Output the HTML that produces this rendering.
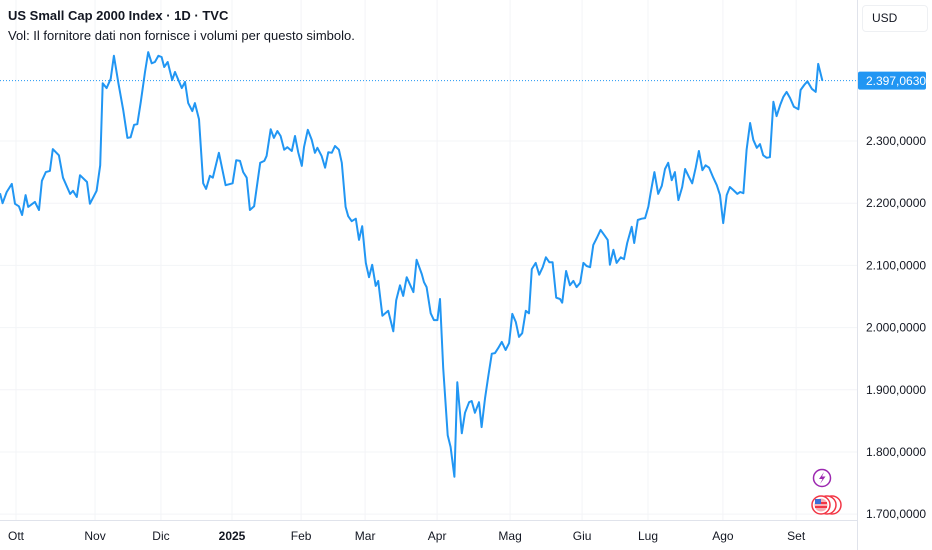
<!DOCTYPE html>
<html><head><meta charset="utf-8">
<style>
body{margin:0;width:932px;height:550px;background:#fff;overflow:hidden;font-family:"Liberation Sans","DejaVu Sans",sans-serif;}
#wrap{position:relative;width:932px;height:550px;}
svg{position:absolute;left:0;top:0;}
.hdr{position:absolute;left:8px;color:#131722;white-space:nowrap;}
</style></head><body>
<div id="wrap">
<svg id="chart" width="932" height="550"></svg>
<div class="hdr" style="top:8px;font-size:13px;font-weight:bold;">US Small Cap 2000 Index · 1D · TVC</div>
<div class="hdr" style="top:28px;font-size:13px;">Vol: Il fornitore dati non fornisce i volumi per questo simbolo.</div>
<div style="position:absolute;left:862px;top:5px;width:64px;height:25px;border:1px solid #eef0f3;border-radius:4px;font-size:12px;color:#131722;line-height:25px;text-indent:9px;">USD</div>
</div>
<script>
const days=[0,0.8,2.1,3.7,4.7,5.9,6.9,8.0,8.8,10.9,12.2,13.1,14.3,15.6,16.5,18.4,19.7,21.9,22.8,24.0,25.0,27.2,28.1,30.2,31.3,32.1,33.3,34.6,35.6,37.0,38.5,39.8,40.8,41.9,42.9,44.0,45.3,46.3,47.4,48.4,49.5,50.5,51.3,52.4,53.8,54.7,56.8,57.8,58.8,60.1,60.9,62.2,63.5,64.4,65.6,66.5,68.4,70.5,72.7,73.8,75.0,76.0,77.1,78.1,79.4,81.3,82.6,83.3,84.6,85.6,86.7,87.7,88.8,89.8,91.2,92.2,93.2,94.3,95.0,96.2,97.4,98.4,99.2,100.5,101.6,102.6,103.7,104.7,105.9,106.8,108.0,108.8,109.9,111.2,112.2,113.2,114.3,115.3,116.3,117.4,118.2,119.5,121.3,122.9,123.8,125.0,126.0,127.1,129.2,130.2,131.8,132.5,133.3,134.6,135.6,136.7,137.5,138.5,139.9,140.8,142.0,142.9,144.3,145.3,146.6,147.4,148.4,149.7,150.5,151.6,152.6,153.7,154.7,155.7,156.8,158.0,159.1,160.1,161.2,162.2,163.2,164.3,165.3,166.2,167.4,168.5,169.6,170.6,171.7,172.7,173.8,175.0,175.7,176.9,178.1,179.2,180.2,181.3,182.3,183.3,184.4,185.4,186.5,187.7,188.8,189.9,190.6,191.7,192.7,194.0,195.0,196.0,197.4,198.2,199.3,200.5,201.6,202.6,203.3,204.5,205.7,206.8,207.8,208.8,209.9,210.9,212.0,213.2,214.1,215.3,216.3,217.4,218.4,219.5,220.5,221.6,222.9,224.0,225.0,226.0,227.1,228.1,229.2,230.4,231.3,232.3,233.3,234.4,235.4,236.5,237.5,238.5,239.6,240.6,241.7,242.7,243.8,244.8,245.8,246.9,248.1,249.5,250.2,251.3,252.3,253.7,254.9,255.7,257.0];
const prices=[2216,2200,2218,2231,2199,2195,2181,2213,2194,2202,2189,2236,2250,2252,2287,2277,2241,2215,2220,2210,2245,2234,2199,2220,2261,2393,2385,2400,2437,2393,2350,2305,2306,2326,2327,2363,2411,2443,2425,2427,2437,2435,2419,2427,2398,2411,2385,2395,2361,2348,2361,2335,2232,2223,2244,2241,2281,2229,2232,2269,2268,2250,2241,2189,2195,2265,2268,2276,2319,2305,2316,2308,2286,2290,2284,2308,2282,2260,2290,2318,2302,2281,2289,2276,2257,2282,2281,2292,2286,2265,2194,2179,2171,2175,2141,2163,2104,2081,2101,2067,2075,2019,2027,1994,2044,2068,2051,2081,2057,2109,2086,2073,2065,2023,2012,2012,2046,1935,1827,1808,1760,1912,1830,1863,1880,1882,1863,1880,1840,1887,1922,1958,1959,1967,1977,1964,1975,2022,2009,1985,1991,2027,2023,2094,2104,2085,2097,2113,2105,2105,2048,2046,2040,2091,2068,2075,2065,2072,2104,2099,2097,2133,2144,2157,2149,2141,2101,2125,2104,2113,2110,2136,2162,2136,2173,2175,2176,2194,2216,2250,2215,2228,2255,2265,2237,2250,2205,2226,2255,2242,2232,2257,2284,2253,2261,2257,2241,2229,2213,2168,2213,2226,2221,2215,2218,2216,2286,2329,2302,2289,2295,2277,2273,2274,2363,2340,2358,2371,2379,2369,2355,2351,2382,2390,2396,2384,2379,2424,2397];
const yTicks=[2300,2200,2100,2000,1900,1800,1700];
const yTickLabels=["2.300,0000","2.200,0000","2.100,0000","2.000,0000","1.900,0000","1.800,0000","1.700,0000"];
const monthDays=[5,29.7,50.3,72.5,94.1,114.1,136.6,159.4,181.9,202.5,225.9,248.8];
const monthLabels=["Ott","Nov","Dic","2025","Feb","Mar","Apr","Mag","Giu","Lug","Ago","Set"];
const lastPrice=2397.063;
const lastPriceLabel="2.397,0630";

const NS="http://www.w3.org/2000/svg";
const svg=document.getElementById('chart');
const X=d=>d*3.2;
const Y=v=>141+(2300-v)/1.608;
function mk(t,a,p){const e=document.createElementNS(NS,t);for(const k in a)e.setAttribute(k,a[k]);(p||svg).appendChild(e);return e;}

monthDays.forEach((d,i)=>{
  const l=mk('line',{x1:X(d),x2:X(d),y1:0,y2:520,stroke:'#f3f4f7','stroke-width':1});
  
  
  const t=mk('text',{x:X(d),y:540,'text-anchor':'middle','font-size':12,fill:'#131722','font-weight':monthLabels[i]==='2025'?'bold':'normal'});
  t.textContent=monthLabels[i];
  
  
});
yTicks.forEach((v,i)=>{
  const l=mk('line',{x1:0,x2:857,y1:Y(v),y2:Y(v),stroke:'#f3f4f7','stroke-width':1});
  
  
  const t=mk('text',{x:866,y:Y(v)+4,'font-size':12,fill:'#131722'});
  t.textContent=yTickLabels[i];
  
  
});
const ax1=mk('line',{x1:857.5,x2:857.5,y1:0,y2:550,stroke:'#e0e3eb'});


const ax2=mk('line',{x1:0,x2:857,y1:520.5,y2:520.5,stroke:'#e0e3eb'});



const pl=mk('line',{x1:0,x2:857,y1:Y(lastPrice),y2:Y(lastPrice),stroke:'#2196f3','stroke-width':1,'stroke-dasharray':'1 2'});



const path=mk('polyline',{points:days.map((d,i)=>X(d).toFixed(1)+','+Y(prices[i]).toFixed(1)).join(' '),fill:'none',stroke:'#2196f3','stroke-width':2,'stroke-linejoin':'round'});



const r=mk('rect',{x:858,y:Y(lastPrice)-9,width:68,height:18,rx:2,fill:'#2196f3'});


const rt=mk('text',{x:866,y:Y(lastPrice)+4.5,'font-size':12,fill:'#fff'});
rt.textContent=lastPriceLabel;



const g1=mk('g',{});


mk('circle',{cx:822,cy:478,r:8.5,fill:'#fff',stroke:'#9c27b0','stroke-width':1.5},g1);
mk('path',{d:'M824 472 L819 479 L822.5 479 L820 484 L825.5 476.5 L822 476.5 Z',fill:'#9c27b0'},g1);
const g2=mk('g',{});


mk('circle',{cx:832,cy:505,r:9,fill:'#fff',stroke:'#f23645','stroke-width':1.5},g2);
mk('circle',{cx:827,cy:505,r:9,fill:'#fff',stroke:'#f23645','stroke-width':1.5},g2);
mk('circle',{cx:821,cy:505,r:9,fill:'#fff',stroke:'#f23645','stroke-width':1.5},g2);
mk('circle',{cx:821,cy:505,r:6.5,fill:'#f6b0b5'},g2);
mk('rect',{x:815,y:502,width:12,height:2,fill:'#f23645'},g2);
mk('rect',{x:815,y:506,width:12,height:2,fill:'#f23645'},g2);
mk('rect',{x:815,y:499,width:6,height:5,fill:'#3d6fd6'},g2);
</script>
</body></html>
